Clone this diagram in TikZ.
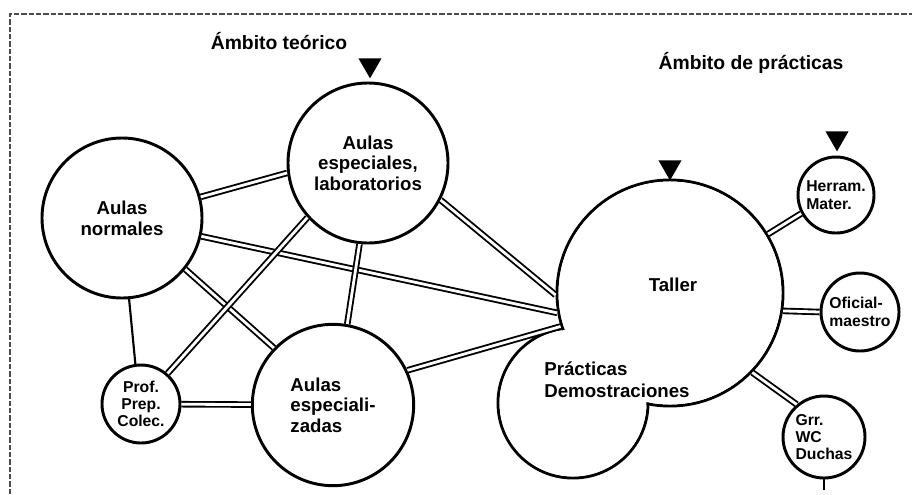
\documentclass[tikz,border=0pt]{standalone}
\usepackage{fontspec}
\setmainfont{Liberation Sans}
\usepackage{tikz}
\usetikzlibrary{shapes.geometric}

\tikzset{
  room/.style={circle,draw,line width=2.2pt,inner sep=0pt,align=center,
    font=\bfseries\fontsize{14}{15.5}\selectfont},
  annex/.style={room,font=\bfseries\fontsize{11.8}{13}\selectfont},
  link/.style={double,double distance=2.1pt,line width=1.4pt},
  wire/.style={line width=1.6pt},
  pointer/.style={regular polygon,regular polygon sides=3,shape border rotate=180,
    fill=black,inner sep=0pt,minimum size=20pt},
  heading/.style={font=\bfseries\fontsize{14.5}{16}\selectfont},
  caption/.style={font=\bfseries\fontsize{14}{16.5}\selectfont,align=left}
}

\begin{document}
\begin{tikzpicture}[x=0.75pt,y=-0.75pt]
\useasboundingbox (0,0) rectangle (912,494);
\draw[line width=1.2pt,gray!60!black,dash pattern=on 4pt off 1.5pt] (10,494) -- (10,14) -- (912,14);

\node[heading] (teorico) at (279,41) {Ámbito teórico};
\node[heading] (practico) at (751,63) {Ámbito de prácticas};

\node[room,minimum size=120pt] (normales) at (122,218) {Aulas\\normales};
\node[room,minimum size=120pt] (especiales) at (368,163) {Aulas\\especiales,\\laboratorios};
\node[room,minimum size=121pt,align=left] (especializadas) at (333,405) {Aulas\\especiali-\\zadas};
\node[annex,minimum size=58.5pt] (prof) at (141,404) {Prof.\\Prep.\\Colec.};
\node[room,minimum size=169.5pt] (taller) at (670,293) {};
\node[room,minimum size=112.5pt] (lobe) at (573,403) {};
\node[annex,minimum size=57pt,align=left] (herram) at (836,195) {Herram.\\Mater.};
\node[annex,minimum size=58.5pt,align=left] (oficial) at (860,312) {Oficial-\\maestro};
\node[annex,minimum size=61.5pt,align=left] (grr) at (824,437) {Grr.\\WC\\Duchas};
\coordinate (salida) at (824,490);

% taller and practicas as one outline
\fill[white] (taller.center) circle[radius=83.6pt];
\fill[white] (lobe.center) circle[radius=55.1pt];
\node[caption] (tallertxt) at (673,285) {Taller};
\node[caption] (practicas) at (617,380) {Prácticas\\Demostraciones};

\node[pointer] (p1) at (370,65) {};
\node[pointer] (p2) at (670,167) {};
\node[pointer] (p3) at (837,138) {};

\draw[link] (normales.15) -- (especiales.187);
\draw[link] (normales.-13) -- (taller.190);
\draw[link] (normales.-39) -- (especializadas.136);
\draw[wire] (normales.-85) -- (prof.98);
\draw[link] (especiales.-138) -- (prof.49);
\draw[link] (especiales.264) -- (especializadas.80);
\draw[link] (especiales.-27) -- (taller.181);
\draw[link] (prof) -- (especializadas);
\draw[link] (especializadas.25) -- (taller.197);
\draw[link] (taller.31) -- (herram.208);
\draw[link] (taller.-9) -- (oficial.west);
\draw[link] (taller.-44) -- (grr.130);
\draw[wire] (grr.south) -- (salida);
\end{tikzpicture}
\end{document}
